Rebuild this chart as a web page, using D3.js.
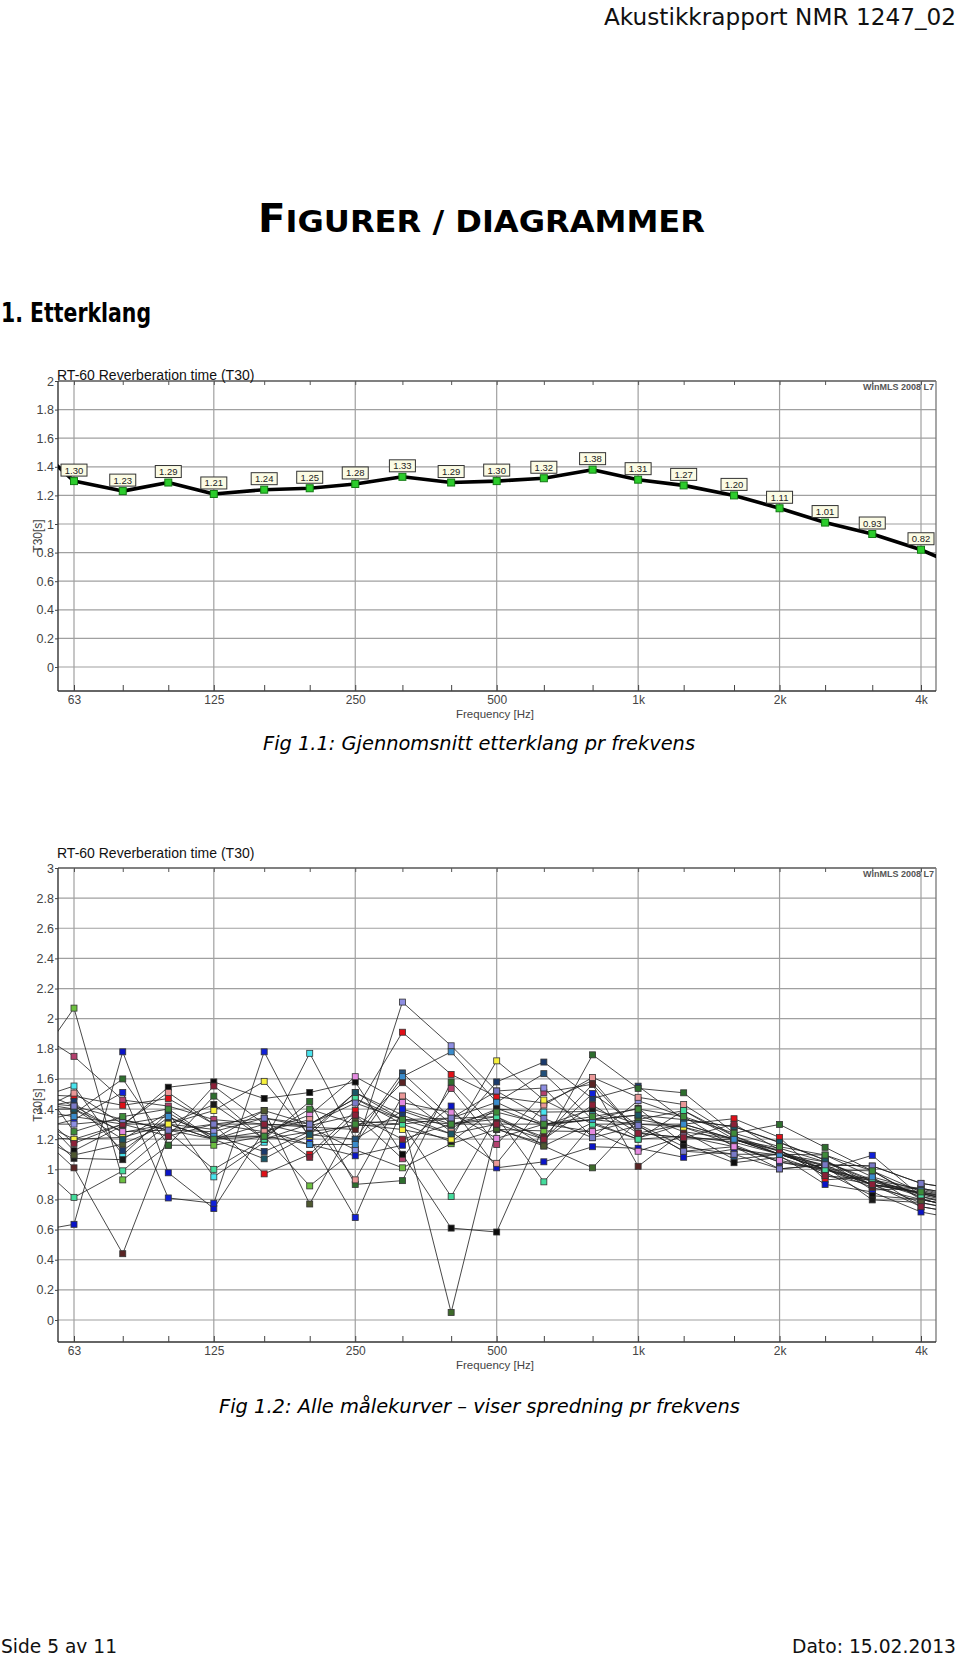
<!DOCTYPE html>
<html><head><meta charset="utf-8">
<script src="https://cdn.jsdelivr.net/npm/d3@7"></script>
<style>body{margin:0;background:#fff}svg{display:block}</style>
</head><body>
<svg id="page" width="960" height="1660"></svg>
<script>
// ---------- DATA ----------
// third-octave bands; 50 Hz and 5 kHz are the neighbouring bands whose segments run out of the plot (clipped)
const bandFreqs = [50, 63, 80, 100, 125, 160, 200, 250, 315, 400, 500, 630, 800, 1000, 1250, 1600, 2000, 2500, 3150, 4000, 5000];
const tickFreqs = [63, 80, 100, 125, 160, 200, 250, 315, 400, 500, 630, 800, 1000, 1250, 1600, 2000, 2500, 3150, 4000];
const octaveFreqs = [63, 125, 250, 500, 1000, 2000, 4000];
const octaveLabels = ["63", "125", "250", "500", "1k", "2k", "4k"];
const yTicks1 = [0, 0.2, 0.4, 0.6, 0.8, 1, 1.2, 1.4, 1.6, 1.8, 2];
const yTicks2 = [0, 0.2, 0.4, 0.6, 0.8, 1, 1.2, 1.4, 1.6, 1.8, 2, 2.2, 2.4, 2.6, 2.8, 3];

// Fig 1.1 average T30
const avgT30 = [1.60, 1.30, 1.23, 1.29, 1.21, 1.24, 1.25, 1.28, 1.33, 1.29, 1.30, 1.32, 1.38, 1.31, 1.27, 1.20, 1.11, 1.01, 0.93, 0.82, 0.68];

// Fig 1.2 all measured curves
const c01 = [1.62,2.07,0.93,1.16,1.16,1.22,0.89,1.13,1.01,1.17,1.265,1.255,1.25,1.33,1.28,1.163,1.047,0.996,0.99,0.807,0.72];
const c02 = [1.95,1.75,1.46,1.42,1.33,1.30,1.29,1.36,1.07,1.537,1.165,1.51,1.565,1.24,1.21,1.195,1.128,0.958,0.93,0.84,0.77];
const c03 = [1.45,1.553,1.095,1.376,0.95,1.18,1.77,1.20,1.388,1.275,1.40,1.38,1.384,1.207,1.30,1.20,1.14,1.05,0.93,0.87,0.80];
const c04 = [1.50,1.485,1.425,1.47,1.30,0.97,1.10,1.39,1.91,1.63,1.482,1.44,1.59,1.24,1.30,1.336,1.212,0.93,0.95,0.752,0.70];
const c05 = [1.40,1.45,1.124,1.345,1.225,1.118,1.25,1.51,1.36,1.235,1.58,1.712,1.47,1.552,1.33,1.283,1.177,1.062,0.863,0.874,0.82];
const c06 = [1.55,1.42,1.245,1.30,1.20,1.30,1.23,1.20,1.64,1.34,1.445,1.635,1.33,1.36,1.25,1.066,1.10,1.03,0.896,0.845,0.79];
const c07 = [0.58,0.635,1.78,0.977,0.74,1.26,1.165,1.09,1.16,1.42,1.01,1.05,1.15,1.14,1.08,1.134,1.093,0.90,0.85,0.717,0.66];
const c08 = [1.25,1.33,1.51,0.81,0.775,1.78,1.20,0.68,1.40,1.30,1.35,1.20,1.503,1.29,1.12,1.15,1.05,1.00,1.093,0.82,0.74];
const c09 = [1.30,1.37,1.60,1.16,1.486,1.20,1.45,0.90,0.925,1.58,1.265,1.17,1.76,1.537,1.508,1.24,1.298,1.146,0.99,0.80,0.74];
const c10 = [1.35,1.20,1.30,1.30,1.20,1.39,1.30,1.47,1.33,0.05,1.27,1.155,1.01,1.33,1.39,1.20,1.10,1.00,0.92,0.82,0.76];
const c11 = [1.45,1.124,1.29,1.545,1.58,1.47,1.51,1.58,1.10,0.61,0.584,1.29,1.33,1.406,1.17,1.044,1.08,0.98,0.825,0.80,0.74];
const c12 = [1.35,1.073,1.064,1.30,1.43,1.20,1.25,1.29,1.30,1.184,1.405,1.29,1.40,1.30,1.15,1.10,1.10,1.02,0.797,0.78,0.72];
const c13 = [1.30,1.01,0.44,1.22,1.30,1.30,1.28,1.265,1.575,1.30,1.332,1.215,1.565,1.02,1.25,1.20,1.12,1.00,0.88,0.80,0.74];
const c14 = [1.25,1.095,1.168,1.30,1.265,1.39,0.77,1.32,1.30,1.338,1.35,1.155,1.31,1.20,1.22,1.18,1.10,1.00,0.90,0.778,0.72];
const c15 = [1.30,1.30,1.33,1.26,1.25,1.34,1.28,1.13,2.11,1.82,1.52,1.54,1.21,1.456,1.35,1.15,1.003,1.03,1.022,0.907,0.86];
const c16 = [1.40,1.40,1.25,1.26,1.20,1.25,1.36,1.615,1.443,1.376,1.205,1.30,1.25,1.12,1.22,1.15,1.06,1.00,0.90,0.84,0.78];
const c17 = [1.35,1.506,1.30,1.51,1.30,1.25,1.33,0.93,1.487,1.25,1.04,1.427,1.61,1.478,1.43,1.22,1.12,1.02,0.90,0.85,0.79];
const c18 = [1.22,1.20,1.212,1.30,1.39,1.584,1.22,1.30,1.264,1.20,1.72,1.46,1.30,1.30,1.28,1.20,1.10,1.05,0.92,0.84,0.78];
const c19 = [1.45,1.40,1.20,1.376,1.20,1.07,1.23,1.51,1.33,1.235,1.30,1.30,1.33,1.36,1.33,1.283,1.18,1.062,0.896,0.874,0.82];
const c20 = [1.10,0.814,0.99,1.25,1.00,1.20,1.30,1.47,1.30,0.82,1.35,0.917,1.30,1.20,1.39,1.22,1.10,1.00,0.93,0.83,0.77];
const c21 = [1.40,1.35,1.30,1.35,1.22,1.22,1.165,1.165,1.615,1.78,1.445,1.30,1.33,1.30,1.30,1.20,1.10,1.095,0.95,0.86,0.80];
const c22 = [1.45,1.172,1.30,1.22,1.553,1.30,1.08,1.36,1.20,1.30,1.30,1.20,1.427,1.24,1.21,1.30,1.128,0.958,0.90,0.752,0.70];
const c23 = [1.45,1.42,1.33,1.26,1.30,1.34,1.30,1.44,1.33,1.34,1.52,1.338,1.21,1.29,1.12,1.10,1.003,1.03,1.022,0.907,0.86];
const c24 = [1.68,1.25,1.35,1.40,1.20,1.22,1.40,1.30,1.33,1.30,1.38,1.30,1.35,1.40,1.35,1.24,1.15,1.095,0.99,0.85,0.80];
const allCurves = [c01,c02,c03,c04,c05,c06,c07,c08,c09,c10,c11,c12,c13,c14,c15,c16,c17,c18,c19,c20,c21,c22,c23,c24];
const curveColors = ["#6cc040","#b4406e","#48e4ee","#e01018","#1b3a6c","#22507a","#0a14c8","#1020d8",
  "#2e6e2e","#3d6a2a","#0c0c0c","#1a1a1a","#5a2424","#4e5830","#8e8ee2","#e48ae0",
  "#ea9898","#f6f03c","#1a5666","#44dc9c","#3a8ccc","#8c2038","#7a7ac8","#3e8c3a"];

// ---------- DRAWING ----------
const svg = d3.select("#page");
const X0 = 58, X1 = 936;
const x = d3.scaleLog().domain([63, 4000]).range([74, 921]);
const docFont = "'DejaVu Sans', Verdana, sans-serif";
const chartFont = "'Liberation Sans', Arial, sans-serif";

// page texts
svg.append("text").attr("x", 956).attr("y", 25).attr("text-anchor", "end")
  .attr("font-family", docFont).attr("font-size", 23).attr("fill", "#111")
  .attr("textLength", 352).attr("lengthAdjust", "spacingAndGlyphs").text("Akustikkrapport NMR 1247_02");

const ttl = svg.append("text").attr("x", 258).attr("y", 232).attr("font-family", docFont)
  .attr("font-weight", "bold").attr("fill", "#000").attr("textLength", 447).attr("lengthAdjust", "spacingAndGlyphs");
ttl.append("tspan").attr("font-size", 39).text("F");
ttl.append("tspan").attr("font-size", 31).text("IGURER / DIAGRAMMER");

svg.append("text").attr("x", 1).attr("y", 322).attr("font-family", docFont).attr("font-weight", "bold")
  .attr("font-size", 26).attr("fill", "#000").attr("textLength", 150).attr("lengthAdjust", "spacingAndGlyphs")
  .text("1. Etterklang");

svg.append("text").attr("x", 263).attr("y", 750).attr("font-family", docFont).attr("font-style", "italic")
  .attr("font-size", 20).attr("fill", "#000").attr("textLength", 432).attr("lengthAdjust", "spacingAndGlyphs")
  .text("Fig 1.1: Gjennomsnitt etterklang pr frekvens");

svg.append("text").attr("x", 219).attr("y", 1413).attr("font-family", docFont).attr("font-style", "italic")
  .attr("font-size", 20).attr("fill", "#000").attr("textLength", 521).attr("lengthAdjust", "spacingAndGlyphs")
  .text("Fig 1.2: Alle målekurver – viser spredning pr frekvens");

svg.append("text").attr("x", 1).attr("y", 1653).attr("font-family", docFont)
  .attr("font-size", 19).attr("fill", "#111").attr("textLength", 116).attr("lengthAdjust", "spacingAndGlyphs")
  .text("Side 5 av 11");
svg.append("text").attr("x", 956).attr("y", 1653).attr("text-anchor", "end").attr("font-family", docFont)
  .attr("font-size", 19).attr("fill", "#111").attr("textLength", 164).attr("lengthAdjust", "spacingAndGlyphs")
  .text("Dato: 15.02.2013");

function frame(cfg) {
  const { top, bottom, y, yTicks, titleY, id } = cfg;
  const g = svg.append("g");
  svg.append("clipPath").attr("id", id).append("rect")
    .attr("x", X0).attr("y", top).attr("width", X1 - X0).attr("height", bottom - top);
  // grid
  g.selectAll(".hg").data(yTicks).join("line")
    .attr("x1", X0).attr("x2", X1).attr("y1", d => y(d)).attr("y2", d => y(d))
    .attr("stroke", "#a0a0a0").attr("stroke-width", 1.2);
  g.selectAll(".vg").data(octaveFreqs).join("line")
    .attr("x1", d => x(d)).attr("x2", d => x(d)).attr("y1", top).attr("y2", bottom)
    .attr("stroke", "#a0a0a0").attr("stroke-width", 1.2);
  // top / right border
  g.append("line").attr("x1", X0).attr("x2", X1).attr("y1", top).attr("y2", top).attr("stroke", "#666").attr("stroke-width", 1.3);
  g.append("line").attr("x1", X1).attr("x2", X1).attr("y1", top).attr("y2", bottom).attr("stroke", "#777").attr("stroke-width", 1.3);
  // top ticks (inward)
  const topAx = g.append("g").attr("transform", `translate(0,${top})`)
    .call(d3.axisTop(x).tickValues(tickFreqs).tickSize(-4).tickFormat(""));
  topAx.select(".domain").remove();
  topAx.selectAll("line").attr("stroke", "#555");
  // bottom axis
  const botAx = g.append("g").attr("transform", `translate(0,${bottom})`)
    .call(d3.axisBottom(x).tickValues(tickFreqs).tickSize(-6).tickPadding(4)
      .tickFormat(d => { const i = octaveFreqs.indexOf(d); return i >= 0 ? octaveLabels[i] : ""; }));
  botAx.select(".domain").attr("d", `M${X0},0H${X1}`).attr("stroke", "#333").attr("stroke-width", 1.4);
  botAx.selectAll("line").attr("stroke", "#444");
  botAx.selectAll("text").attr("font-family", chartFont).attr("font-size", 12).attr("fill", "#444");
  // left axis
  const leftAx = g.append("g").attr("transform", `translate(${X0},0)`)
    .call(d3.axisLeft(y).tickValues(yTicks).tickSize(3).tickPadding(1).tickFormat(d3.format("~g")));
  leftAx.select(".domain").attr("d", `M0,${top}V${bottom}`).attr("stroke", "#333").attr("stroke-width", 1.4);
  leftAx.selectAll("line").attr("stroke", "#444");
  leftAx.selectAll("text").attr("font-family", chartFont).attr("font-size", 12.5).attr("fill", "#444");
  // axis titles
  g.append("text").attr("x", 495).attr("y", bottom + 27).attr("text-anchor", "middle")
    .attr("font-family", chartFont).attr("font-size", 11.5).attr("fill", "#444").text("Frequency [Hz]");
  g.append("text").attr("transform", `translate(42,${(top + bottom) / 2}) rotate(-90)`).attr("text-anchor", "middle")
    .attr("font-family", chartFont).attr("font-size", 12).attr("fill", "#444").text("T30[s]");
  g.append("text").attr("x", 57).attr("y", titleY).attr("font-family", chartFont).attr("font-size", 14)
    .attr("fill", "#111").text("RT-60 Reverberation time (T30)");
  g.append("text").attr("x", 934).attr("y", top + 9).attr("text-anchor", "end").attr("font-family", chartFont)
    .attr("font-size", 9).attr("font-weight", "bold").attr("fill", "#555").text("WinMLS 2008 L7");
  return g;
}

// ---------- Chart 1 ----------
const y1 = d3.scaleLinear().domain([0, 2]).range([667, 381]);
const g1 = frame({ top: 381, bottom: 691, y: y1, yTicks: yTicks1, titleY: 380, id: "clip1" });
const pts1 = bandFreqs.map((f, i) => ({ f, v: avgT30[i] }));
g1.append("path").datum(pts1).attr("clip-path", "url(#clip1)")
  .attr("d", d3.line().x(d => x(d.f)).y(d => y1(d.v)))
  .attr("fill", "none").attr("stroke", "#000").attr("stroke-width", 3.6).attr("stroke-linejoin", "round");
const inner1 = pts1.slice(1, -1);
g1.selectAll(".m1").data(inner1).join("rect")
  .attr("x", d => x(d.f) - 3.5).attr("y", d => y1(d.v) - 3.5).attr("width", 7).attr("height", 7)
  .attr("fill", "#2ccc2c").attr("stroke", "#137a13").attr("stroke-width", 1);
const lab = g1.selectAll(".lab").data(inner1).join("g")
  .attr("transform", d => `translate(${x(d.f)},${y1(d.v) - 11})`);
lab.append("rect").attr("x", -13).attr("y", -6).attr("width", 26).attr("height", 12)
  .attr("fill", "#fbfbe4").attr("stroke", "#333").attr("stroke-width", 1);
lab.append("text").attr("y", 3.5).attr("text-anchor", "middle").attr("font-family", chartFont)
  .attr("font-size", 9.5).attr("fill", "#222").text(d => d.v.toFixed(2));

// ---------- Chart 2 ----------
const y2 = d3.scaleLinear().domain([0, 3]).range([1320, 868]);
const g2 = frame({ top: 868, bottom: 1342, y: y2, yTicks: yTicks2, titleY: 858, id: "clip2" });
const line2 = d3.line().x((d, i) => x(bandFreqs[i])).y(d => y2(d));
g2.append("g").attr("clip-path", "url(#clip2)").selectAll("path").data(allCurves).join("path")
  .attr("d", d => line2(d)).attr("fill", "none").attr("stroke", "#1e1e1e").attr("stroke-width", 0.9).attr("stroke-opacity", 0.9);
const mk = g2.append("g");
allCurves.forEach((c, ci) => {
  mk.selectAll(".m" + ci).data(c.slice(1, -1)).join("rect")
    .attr("x", (d, i) => x(bandFreqs[i + 1]) - 3).attr("y", d => y2(d) - 3)
    .attr("width", 6).attr("height", 6)
    .attr("fill", curveColors[ci]).attr("stroke", "#333").attr("stroke-width", 0.8);
});
</script>
</body></html>
